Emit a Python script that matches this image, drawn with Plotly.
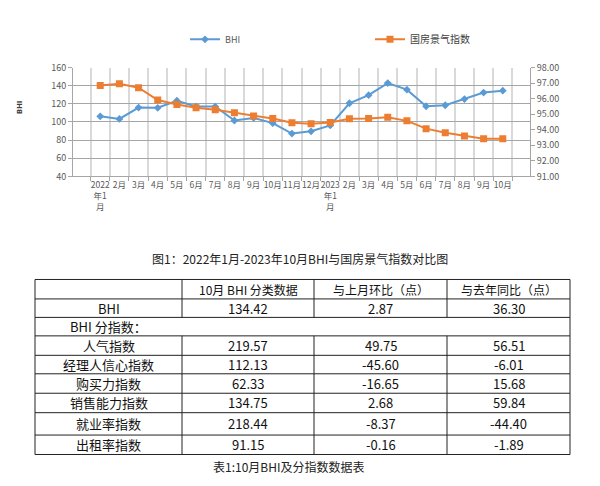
import plotly.graph_objects as go

# page body has an 8px margin; compensate so the picture maps to 600x486 window coords
OFF = 8
W, H = 600 - 2 * OFF, 486 - 2 * OFF

months = ["2022<br>年1<br>月", "2月", "3月", "4月", "5月", "6月", "7月", "8月", "9月", "10月", "11月", "12月",
          "2023<br>年1<br>月", "2月", "3月", "4月", "5月", "6月", "7月", "8月", "9月", "10月"]
cat_ids = [f"c{i}" for i in range(len(months))]

bhi = [106.2, 103.4, 115.9, 115.6, 123.4, 117.0, 117.0, 101.6, 104.4, 98.7, 87.2,
       89.7, 96.2, 120.6, 129.5, 142.8, 135.6, 117.3, 118.4, 125.2, 132.4, 134.42]
guofang = [96.85, 96.96, 96.70, 95.91, 95.62, 95.41, 95.28, 95.10, 94.89, 94.72, 94.45,
           94.39, 94.47, 94.70, 94.72, 94.80, 94.57, 94.07, 93.80, 93.59, 93.42, 93.42]

table_header = ["", "10月 BHI 分类数据", "与上月环比（点）", "与去年同比（点）"]
row_names = ["BHI", "BHI 分指数：", "人气指数", "经理人信心指数", "购买力指数", "销售能力指数", "就业率指数", "出租率指数"]
col_value = ["134.42", "", "219.57", "112.13", "62.33", "134.75", "218.44", "91.15"]
col_mom = ["2.87", "", "49.75", "-45.60", "-16.65", "2.68", "-8.37", "-0.16"]
col_yoy = ["36.30", "", "56.51", "-6.01", "15.68", "59.84", "-44.40", "-1.89"]

chart_caption = "图1：2022年1月-2023年10月BHI与国房景气指数对比图"
table_caption = "表1:10月BHI及分指数数据表"

BLUE = "#5b9bd5"
ORANGE = "#ed7d31"
CJK = "Noto Sans CJK SC"

def px(x):
    return (x - OFF) / W

def py(y):
    return 1 - (y - OFF) / H

fig = go.Figure()
fig.add_trace(go.Scatter(x=cat_ids, y=bhi, name="BHI", mode="lines+markers",
                         line=dict(color=BLUE, width=2),
                         marker=dict(symbol="diamond", size=6, color=BLUE),
                         legend="legend"))
fig.add_trace(go.Scatter(x=cat_ids, y=guofang, name="国房景气指数", mode="lines+markers",
                         line=dict(color=ORANGE, width=2),
                         marker=dict(symbol="square", size=7, color=ORANGE),
                         yaxis="y2", legend="legend2"))

tickfont = dict(family=CJK, size=9, color="#595959")
xtickfont = dict(family=CJK, size=8.5, color="#595959")

fig.update_layout(
    width=W, height=H,
    margin=dict(l=0, r=0, t=0, b=0),
    paper_bgcolor="white", plot_bgcolor="white",
    font=dict(family=CJK, color="#404040"),
    xaxis=dict(domain=[px(73), px(530)], type="category", tickmode="array",
               tickvals=cat_ids, ticktext=months, tickson="boundaries",
               showgrid=True, gridcolor="#d9d9d9", gridwidth=2,
               showline=True, linecolor="#a6a6a6", ticks="outside", ticklen=4,
               tickcolor="#a6a6a6", tickfont=xtickfont, tickangle=0),
    yaxis=dict(domain=[py(174), py(62)], range=[40, 160], dtick=20,
               showgrid=True, gridcolor="#a6a6a6", gridwidth=1,
               showline=True, linecolor="#a6a6a6", ticks="outside", ticklen=4,
               tickcolor="#a6a6a6", tickfont=tickfont, zeroline=False),
    yaxis2=dict(overlaying="y", side="right", range=[91, 98], dtick=1, tickformat=".2f",
                showgrid=False, showline=True, linecolor="#a6a6a6", ticks="outside",
                ticklen=4, tickcolor="#a6a6a6", tickfont=tickfont, zeroline=False),
    legend=dict(x=px(185), y=py(33), xanchor="left", yanchor="middle",
                orientation="h", font=dict(family=CJK, size=9, color="#595959"),
                bgcolor="rgba(0,0,0,0)"),
    legend2=dict(x=px(370), y=py(33), xanchor="left", yanchor="middle",
                 orientation="h", font=dict(family=CJK, size=10, color="#404040"),
                 bgcolor="rgba(0,0,0,0)"),
    showlegend=True,
)

annotations = []
shapes = []

def note(text, x, y, size, family=CJK, color="#222", angle=0):
    annotations.append(dict(text=text, x=px(x), y=py(y), xref="paper", yref="paper",
                            xanchor="center", yanchor="middle", showarrow=False,
                            textangle=angle, font=dict(family=family, size=size, color=color)))

note("<b>BHI</b>", 20, 103, 7, family="DejaVu Sans", color="#404040", angle=-90)
note(chart_caption, 300, 258, 12)
note(table_caption, 288, 472, 12)

# Table grid
col_edges = [35, 182, 314, 447, 570]
row_edges = [280, 300, 319, 338, 358, 377, 397, 417, 440, 460]
line_col = "#222"
for yy in row_edges:
    shapes.append(dict(type="line", xref="paper", yref="paper", x0=px(col_edges[0]), x1=px(col_edges[-1]),
                       y0=py(yy), y1=py(yy), line=dict(color=line_col, width=1)))
merged_row = 2  # index in full row list (header=0)
for ci, xx in enumerate(col_edges):
    for ri in range(len(row_edges) - 1):
        if ri == merged_row and 0 < ci < len(col_edges) - 1:
            continue
        shapes.append(dict(type="line", xref="paper", yref="paper", x0=px(xx), x1=px(xx),
                           y0=py(row_edges[ri]), y1=py(row_edges[ri + 1]), line=dict(color=line_col, width=1)))

def cell(text, ci, ri, size=13):
    if not text:
        return
    xc = (col_edges[ci] + col_edges[ci + 1]) / 2
    yc = (row_edges[ri] + row_edges[ri + 1]) / 2
    note(text, xc, yc, size, color="#111")

for ci, t in enumerate(table_header):
    cell(t, ci, 0, 12)
columns = [row_names, col_value, col_mom, col_yoy]
for ci, col in enumerate(columns):
    for ri, t in enumerate(col):
        cell(t, ci, ri + 1, 13)

fig.update_layout(annotations=annotations, shapes=shapes)
fig.write_html("out.html")
